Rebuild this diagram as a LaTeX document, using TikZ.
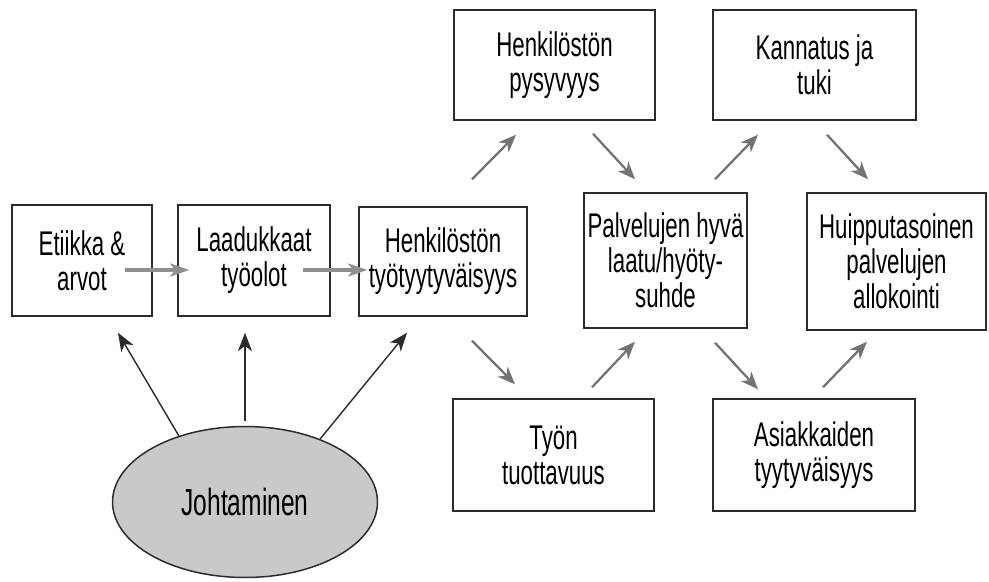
\documentclass[tikz,border=0pt]{standalone}
\usepackage{fontspec}
\setmainfont{Liberation Sans}[FakeStretch=0.65]
\usepackage{xcolor}
\usetikzlibrary{arrows.meta, shapes.geometric}

\definecolor{boxline}{HTML}{2B2B2B}
\definecolor{arrowgray}{HTML}{737373}
\definecolor{ovalfill}{HTML}{C9C9C9}

\begin{document}
\begin{tikzpicture}[x=0.02cm, y=-0.02cm,
  box/.style={rectangle, draw=boxline, line width=0.85pt, fill=white, align=center, inner sep=2pt, font=\fontsize{19.5}{20}\selectfont},
  grayarrow/.style={draw=arrowgray, line width=1.3pt, -{Stealth[length=10pt, width=8pt, inset=3pt]}},
  flatarrow/.style={draw=arrowgray!80, line width=1.8pt, -{Stealth[length=11pt, width=7.5pt, inset=3pt]}},
  darkarrow/.style={draw=boxline, line width=0.8pt, -{Stealth[length=10.5pt, width=8pt, inset=3pt]}}]
\useasboundingbox (0,0) rectangle (989,581);
\node[box, minimum width=2.8cm, minimum height=2.22cm] (etiikka) at (82,260.5) {Etiikka \&\\arvot};
\node[box, minimum width=3.04cm, minimum height=2.22cm] (laatu) at (254,260.5) {Laadukkaat\\työolot};
\node[box, minimum width=3.36cm, minimum height=2.18cm] (tyyt) at (443,261.5) {Henkilöstön\\työtyytyväisyys};
\node[box, minimum width=4.02cm, minimum height=2.2cm] (pysy) at (554.5,65) {Henkilöstön\\pysyvyys};
\node[box, minimum width=4.06cm, minimum height=2.2cm] (kann) at (814.5,65) {Kannatus ja\\tuki};
\node[box, minimum width=3.26cm, minimum height=2.7cm] (palv) at (665.5,260.5) {Palvelujen hyvä\\laatu/hyöty-\\suhde};
\node[box, minimum width=3.58cm, minimum height=2.74cm] (huippu) at (896.5,261.5) {Huipputasoinen\\palvelujen\\allokointi};
\node[box, minimum width=4.02cm, minimum height=2.24cm] (tyon) at (553.5,455) {Työn\\tuottavuus};
\node[box, minimum width=4.04cm, minimum height=2.24cm] (asiak) at (814,455) {Asiakkaiden\\tyytyväisyys};
\node[ellipse, draw=boxline, line width=0.85pt, fill=ovalfill, minimum width=5.3cm, minimum height=3.02cm, font=\fontsize{21.5}{24}\selectfont] (johto) at (245,502) {Johtaminen};
\draw[flatarrow] ([shift={(-28,9.5)}]etiikka.east) -- ([shift={(12,9.5)}]laatu.west);
\draw[flatarrow] ([shift={(-28,9.5)}]laatu.east) -- ([shift={(9,8.5)}]tyyt.west);
\draw[grayarrow] ([shift={(29,-27)}]tyyt.north) -- ([shift={(-38.5,14)}]pysy.south);
\draw[grayarrow] ([shift={(38.5,13)}]pysy.south) -- ([shift={(-30.5,-13)}]palv.north);
\draw[grayarrow] ([shift={(49.5,-13)}]palv.north) -- ([shift={(-56.5,14)}]kann.south);
\draw[grayarrow] ([shift={(12.5,14)}]kann.south) -- ([shift={(-28.5,-13)}]huippu.north);
\draw[grayarrow] ([shift={(29,24)}]tyyt.south) -- ([shift={(-38.5,-14)}]tyon.north);
\draw[grayarrow] ([shift={(38.5,-11)}]tyon.north) -- ([shift={(-30.5,13)}]palv.south);
\draw[grayarrow] ([shift={(49.5,14)}]palv.south) -- ([shift={(-56,-9)}]asiak.north);
\draw[grayarrow] ([shift={(9,-11)}]asiak.north) -- ([shift={(-29.5,11)}]huippu.south);
\draw[darkarrow] (johto.135) -- ([shift={(36,16)}]etiikka.south);
\draw[darkarrow] ([shift={(0,-5)}]johto.north) -- ([shift={(-9,16)}]laatu.south);
\draw[darkarrow] (johto.40) -- ([shift={(-36,16)}]tyyt.south);
\end{tikzpicture}
\end{document}
